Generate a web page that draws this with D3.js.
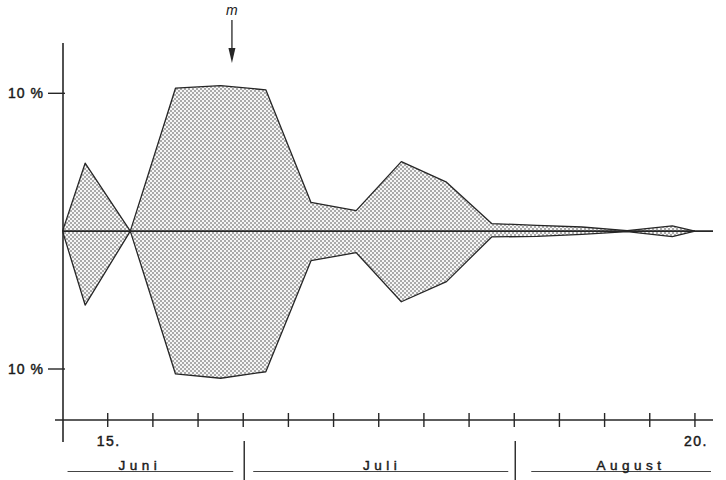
<!DOCTYPE html>
<html><head><meta charset="utf-8">
<script src="https://cdn.jsdelivr.net/npm/d3@7"></script>
<style>
html,body{margin:0;padding:0;background:#fff;}
svg{display:block;}
text{font-family:"Liberation Sans",Arial,sans-serif;fill:#1a1a1a;}
text.lab{stroke:#1a1a1a;stroke-width:0.45px;}
</style></head>
<body><svg id="c" width="726" height="480"></svg>
<script>
// pentad positions (0 = 15 June, 13 = 20 August, step = 5 days)
const positions = [-1, -0.5, 0.5, 1.5, 2.5, 3.5, 4.5, 5.5, 6.5, 7.5, 8.5, 9.5, 10.5, 11.5, 12.5, 13];
// percentage above the centre line
const upperValues = [0, 4.93, 0, 10.37, 10.56, 10.25, 2.08, 1.49, 5.04, 3.55, 0.55, 0.42, 0.3, 0.04, 0.38, 0];
// percentage below the centre line
const lowerValues = [0, 5.36, 0, 10.36, 10.67, 10.2, 2.14, 1.56, 5.12, 3.66, 0.42, 0.38, 0.24, 0.04, 0.4, 0];
const tickPositions = [0,1,2,3,4,5,6,7,8,9,10,11,12,13];
const tickLabels = ["15.","","","","","","","","","","","","","20."];
const yTickValues = [10, -10];
const yTickLabels = ["10 %", "10 %"];
const monthNames = ["Juni", "Juli", "August"];
const monthBounds = [-1, 3, 9, 13.4];
const monthLabelPos = [0.67, 6.03, 11.54];
const markerPos = 2.75;
const markerLabel = "m";

const svg = d3.select("#c");
const x = d3.scaleLinear().domain([-0.99, 13.4]).range([63, 713]);
const y = d3.scaleLinear().domain([-10, 10]).range([369, 93.3]);
const ink = "#262626";

// stipple pattern
const defs = svg.append("defs");
const pat = defs.append("pattern").attr("id","dots").attr("patternUnits","userSpaceOnUse")
  .attr("width",4).attr("height",4);
pat.append("rect").attr("width",4).attr("height",4).attr("fill","#f6f6f6");
pat.append("circle").attr("cx",1).attr("cy",1).attr("r",0.8).attr("fill","#4a4a4a");
pat.append("circle").attr("cx",3).attr("cy",3).attr("r",0.8).attr("fill","#4a4a4a");

const pts = positions.map((p,i)=>({p, u: upperValues[i], l: lowerValues[i]}));
const area = d3.area().x(d=>x(d.p)).y0(d=>y(-d.l)).y1(d=>y(d.u));
svg.append("path").datum(pts).attr("d", area).attr("fill","url(#dots)");
const lineU = d3.line().x(d=>x(d.p)).y(d=>y(d.u));
const lineL = d3.line().x(d=>x(d.p)).y(d=>y(-d.l));
svg.append("path").datum(pts).attr("d", lineU).attr("fill","none").attr("stroke",ink).attr("stroke-width",1.3).attr("stroke-linejoin","round");
svg.append("path").datum(pts).attr("d", lineL).attr("fill","none").attr("stroke",ink).attr("stroke-width",1.3).attr("stroke-linejoin","round");

// centre line
svg.append("line").attr("x1",x(-0.99)).attr("x2",713).attr("y1",y(0)).attr("y2",y(0))
  .attr("stroke",ink).attr("stroke-width",1.6);

// y axis
svg.append("line").attr("x1",63).attr("x2",63).attr("y1",43).attr("y2",442).attr("stroke",ink).attr("stroke-width",1.6);
yTickValues.forEach((v,i)=>{
  svg.append("line").attr("x1",48).attr("x2",65).attr("y1",y(v)).attr("y2",y(v)).attr("stroke",ink).attr("stroke-width",1.4);
  svg.append("text").attr("class","lab").attr("x",44).attr("y",y(v)+5).attr("text-anchor","end")
    .attr("font-size",14).attr("letter-spacing",1).text(yTickLabels[i]);
});

// x axis
const xAxisY = 420;
svg.append("line").attr("x1",55).attr("x2",713).attr("y1",xAxisY).attr("y2",xAxisY).attr("stroke",ink).attr("stroke-width",1.6);
tickPositions.forEach((t,i)=>{
  svg.append("line").attr("x1",x(t)).attr("x2",x(t)).attr("y1",xAxisY-7).attr("y2",xAxisY+7).attr("stroke",ink).attr("stroke-width",1.4);
  if (tickLabels[i]) svg.append("text").attr("class","lab").attr("x",x(t)+1).attr("y",xAxisY+26).attr("text-anchor","middle")
    .attr("font-size",14).attr("letter-spacing",1.5).text(tickLabels[i]);
});

// months
const mY = 471.5;
const starts = [x(monthBounds[0])+5, x(monthBounds[1])+10, x(monthBounds[2])+17];
const ends = [x(monthBounds[1])-10, x(monthBounds[2])-6, 711];
monthNames.forEach((m,i)=>{
  svg.append("line").attr("x1",starts[i]).attr("x2",ends[i]).attr("y1",mY).attr("y2",mY).attr("stroke","#444").attr("stroke-width",1);
  svg.append("text").attr("class","lab").attr("x",x(monthLabelPos[i])+2).attr("y",mY-2).attr("text-anchor","middle")
    .attr("font-size",13.5).attr("letter-spacing",4.5).text(m);
});
[monthBounds[1], monthBounds[2]].forEach(b=>{
  svg.append("line").attr("x1",x(b)+1).attr("x2",x(b)+1).attr("y1",441).attr("y2",480).attr("stroke",ink).attr("stroke-width",1.4);
});

// marker arrow
const mx = x(markerPos);
svg.append("line").attr("x1",mx).attr("x2",mx).attr("y1",20).attr("y2",52).attr("stroke",ink).attr("stroke-width",1.3);
svg.append("path").attr("d",`M${mx-3.5},48 L${mx+3.5},48 L${mx},63 Z`).attr("fill",ink);
svg.append("text").attr("x",mx).attr("y",15).attr("text-anchor","middle").attr("font-size",14)
  .attr("font-style","italic").text(markerLabel);
</script></body></html>
